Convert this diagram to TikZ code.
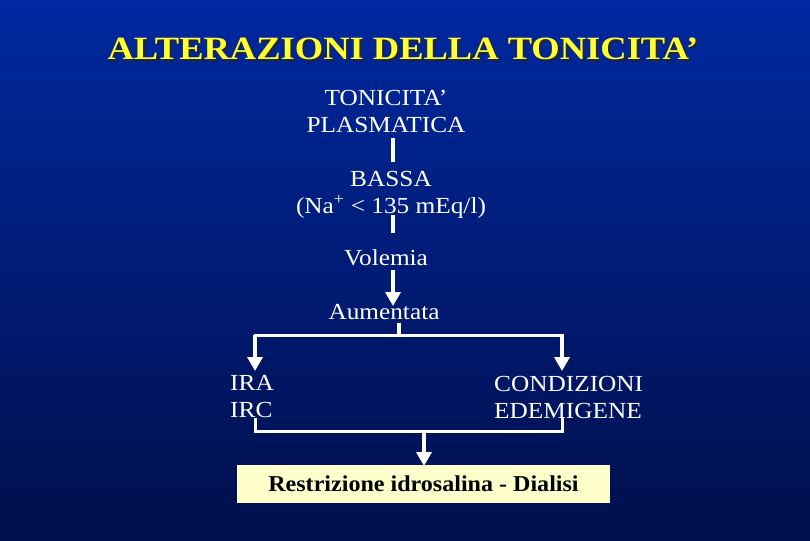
\documentclass[tikz,border=0pt]{standalone}
\usepackage{fontspec}
\usepackage{graphicx}
\setmainfont{Liberation Serif}
\usetikzlibrary{arrows.meta,calc}
\definecolor{bgtop}{RGB}{0,40,160}
\definecolor{bgbot}{RGB}{0,15,75}
\definecolor{ttl}{RGB}{255,255,51}
\definecolor{boxfill}{RGB}{255,255,204}
\newcommand{\wx}[1]{\scalebox{1.1}[1]{#1}}
\newcommand{\wt}[1]{\scalebox{1.123}[1]{#1}}
\tikzset{
  txt/.style={text=white,font=\fontsize{23}{27}\selectfont,align=center,inner sep=0pt},
  ttlfont/.style={font=\bfseries\fontsize{32.5}{33}\selectfont,inner sep=0pt},
  ln/.style={draw=white,line width=4pt},
  hl/.style={draw=white,line width=3pt},
  arr/.style={draw=white,line width=4pt,-{Triangle[length=14pt,width=15pt]}},
}
\begin{document}
\begin{tikzpicture}[x=1pt,y=-1pt]
\useasboundingbox (0,0) rectangle (810,540);
\shade[top color=bgtop,bottom color=bgbot] (0,0) rectangle (810,540);
% title with shadow
\node (shadow) [ttlfont,text=black!85] at (405,51) {\wt{ALTERAZIONI DELLA TONICITA’}};
\node (title) [ttlfont,text=ttl] at (403,49) {\wt{ALTERAZIONI DELLA TONICITA’}};
% nodes
\node (ton) [txt] at (386,111) {\wx{TONICITA’}\\\wx{PLASMATICA}};
\node (bassa) [txt] at (391,195) {\wx{BASSA}\\\wx{(Na\textsuperscript{+} < 135 mEq/l)}};
\node (vol) [txt] at (386,258) {\wx{Volemia}};
\node (aum) [txt] at (384,312) {\wx{Aumentata}};
\node (ira) [txt,align=left,anchor=west] at (230,397) {\wx{IRA}\\\wx{IRC}};
\node (cond) [txt,align=left,anchor=west] at (494,397) {\wx{CONDIZIONI}\\\wx{EDEMIGENE}};
\node (box) [fill=boxfill,minimum width=373pt,minimum height=38pt,inner sep=0pt,font=\bfseries\fontsize{22.7}{27}\selectfont,text=black] at (423.5,484) {\scalebox{1.06}[1]{Restrizione idrosalina - Dialisi}};
% coordinates
\coordinate (a1) at (393,138); \coordinate (a2) at (393,162);
\coordinate (b1) at (393,215); \coordinate (b2) at (393,233);
\coordinate (c1) at (393,270); \coordinate (c2) at (393,306);
\coordinate (d1) at (399,323); \coordinate (d2) at (399,335);
\coordinate (eL) at (255,335); \coordinate (eR) at (562,335);
\coordinate (fL) at (255,371); \coordinate (fR) at (562,371);
\coordinate (gL) at (255,418); \coordinate (gR) at (562,418);
\coordinate (hL) at (255,431); \coordinate (hR) at (562,431);
\coordinate (h1) at (424,431); \coordinate (h2) at (424,466);
\draw[ln] (a1) -- (a2);
\draw[ln] (b1) -- (b2);
\draw[arr] (c1) -- (c2);
\draw[ln] (d1) -- (d2);
\draw[hl] ([xshift=-1.5pt]eL) -- ([xshift=1.5pt]eR);
\draw[arr] (eL) -- (fL);
\draw[arr] (eR) -- (fR);
\draw[hl] (gL) -- (hL) -- (hR) -- (gR);
\draw[arr] (h1) -- (h2);
\end{tikzpicture}
\end{document}
